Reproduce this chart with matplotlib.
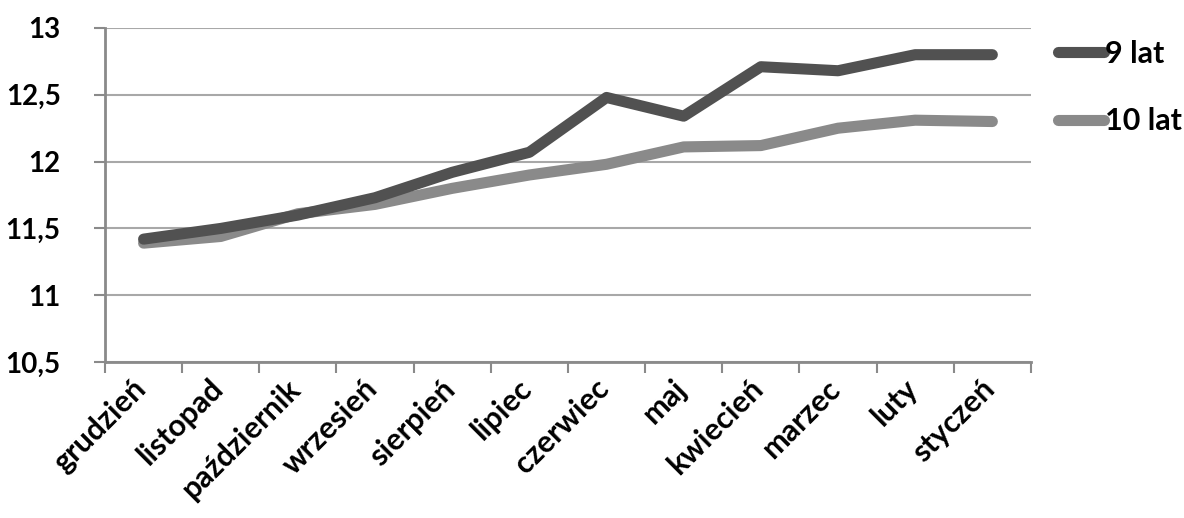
import matplotlib.pyplot as plt
from matplotlib.ticker import FuncFormatter
from matplotlib.transforms import ScaledTranslation

plt.rcParams['font.family'] = ['Lato', 'DejaVu Sans']

months = ['grudzień', 'listopad', 'październik', 'wrzesień', 'sierpień', 'lipiec',
          'czerwiec', 'maj', 'kwiecień', 'marzec', 'luty', 'styczeń']
lat9 = [11.42, 11.50, 11.60, 11.73, 11.92, 12.07, 12.48, 12.34, 12.71, 12.68, 12.80, 12.80]
lat10 = [11.39, 11.44, 11.61, 11.68, 11.80, 11.90, 11.98, 12.11, 12.12, 12.25, 12.31, 12.30]

fig = plt.figure(figsize=(11.84, 5.18), dpi=100)
ax = fig.add_axes([0.0887, 0.301, 0.782, 0.645])

x = list(range(len(months)))
ax.plot(x, lat9, color='#515151', lw=8, solid_capstyle='round', solid_joinstyle='round', label='9 lat', zorder=3)
ax.plot(x, lat10, color='#8a8a8a', lw=8, solid_capstyle='round', solid_joinstyle='round', label='10 lat', zorder=2)

ax.set_xlim(-0.5, len(months) - 0.5)
ax.set_ylim(10.5, 13)
ax.set_yticks([10.5, 11, 11.5, 12, 12.5, 13])
ax.yaxis.set_major_formatter(FuncFormatter(lambda v, p: ('%g' % v).replace('.', ',')))
ax.grid(axis='y', color='#a8a8a8', lw=1.5)
ax.set_axisbelow(True)

ax.set_xticks([i - 0.5 for i in range(len(months) + 1)])
ax.set_xticklabels([])
ax.set_xticks(x, minor=True)
ax.set_xticklabels(months, minor=True, rotation=45, ha='right', va='center',
                   rotation_mode='anchor', fontsize=22, fontweight='bold')
ax.tick_params(axis='x', which='minor', length=0, pad=16)
ax.tick_params(axis='x', which='major', length=8, width=1.5, color='#8a8a8a')
ax.tick_params(axis='y', length=8, width=1.5, color='#8a8a8a', labelsize=20, pad=24)
for lab in ax.get_yticklabels():
    lab.set_fontweight('bold')
shift = ScaledTranslation(-0.02, 0, fig.dpi_scale_trans)
for lab in ax.get_xticklabels(minor=True):
    lab.set_transform(lab.get_transform() + shift)

for s in ['top', 'right']:
    ax.spines[s].set_visible(False)
for s in ['left', 'bottom']:
    ax.spines[s].set_color('#8a8a8a')
    ax.spines[s].set_linewidth(2)

leg = ax.legend(loc='center left', bbox_to_anchor=(1.029, 0.822), frameon=False,
                borderaxespad=0, borderpad=0,
                handlelength=1.5, handletextpad=0.05, labelspacing=1.3,
                prop={'size': 22, 'weight': 'bold'})
for h in leg.get_lines():
    h.set_linewidth(8)
    h.set_solid_capstyle('round')

fig.savefig('out.png', dpi=100)
